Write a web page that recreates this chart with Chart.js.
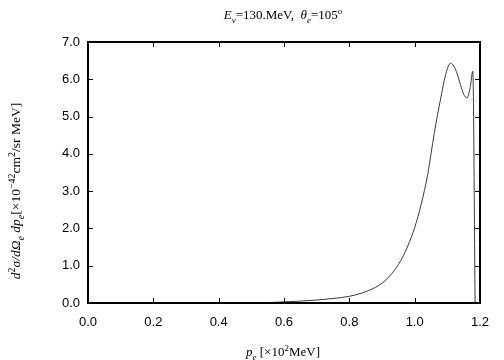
<!DOCTYPE html>
<html>
<head>
<meta charset="utf-8">
<script src="https://cdn.jsdelivr.net/npm/chart.js@4/dist/chart.umd.min.js"></script>
<style>
  html, body { margin: 0; padding: 0; background: #fff; }
  #wrap { width: 504px; height: 360px; }
</style>
</head>
<body>
<div id="wrap"><canvas id="spectrum"></canvas></div>
<script>
// electron momentum p_e [x10^2 MeV] and cross section [x10^-42 cm^2/sr MeV]
const momentum = [0.48, 0.55, 0.60, 0.65, 0.70, 0.75, 0.80, 0.82, 0.84, 0.86, 0.88, 0.90, 0.92, 0.94, 0.96, 0.98, 1.00, 1.02, 1.04, 1.05, 1.06, 1.07, 1.08, 1.09, 1.10, 1.11, 1.12, 1.13, 1.14, 1.15, 1.16, 1.17, 1.178, 1.185];
const crossSection = [0.00, 0.01, 0.03, 0.05, 0.08, 0.12, 0.18, 0.22, 0.27, 0.34, 0.42, 0.53, 0.69, 0.90, 1.18, 1.55, 2.02, 2.65, 3.45, 4.00, 4.55, 5.05, 5.50, 5.95, 6.28, 6.43, 6.35, 6.15, 5.86, 5.60, 5.50, 5.78, 6.22, 0.00];

const xTicks = [0.0, 0.2, 0.4, 0.6, 0.8, 1.0, 1.2];
const yTicks = [0.0, 1.0, 2.0, 3.0, 4.0, 5.0, 6.0, 7.0];

// rich text pieces: [text, italic, shift]
const titleText = [['E', true, 0], ['ν', true, 'sub'], ['=130.MeV,  ', false, 0], ['θ', true, 0], ['e', true, 'sub'], ['=105', false, 0], ['o', false, 'sup']];
const xTitleText = [['p', true, 0], ['e', true, 'sub'], [' [×10', false, 0], ['2', false, 'sup'], ['MeV]', false, 0]];
const yTitleText = [['d', true, 0], ['2', false, 'sup'], ['σ/dΩ', true, 0], ['e', true, 'sub'], [' dp', true, 0], ['e', true, 'sub'], ['[×10', false, 0], ['−42', false, 'sup'], ['cm', false, 0], ['2', false, 'sup'], ['/sr MeV]', false, 0]];

const SERIF = '"Liberation Serif", "DejaVu Serif", serif';

function drawRich(ctx, parts, cx, cy, size) {
  const small = Math.round(size * 0.72);
  const font = (italic, sz) => `${italic ? 'italic ' : ''}${sz}px ${SERIF}`;
  let total = 0;
  parts.forEach(([t, it, sh]) => {
    ctx.font = font(it, sh ? small : size);
    total += ctx.measureText(t).width;
  });
  let x = cx - total / 2;
  ctx.textBaseline = 'alphabetic';
  ctx.textAlign = 'left';
  parts.forEach(([t, it, sh]) => {
    ctx.font = font(it, sh ? small : size);
    let dy = 0;
    if (sh === 'sub') dy = size * 0.3;
    if (sh === 'sup') dy = -size * 0.4;
    ctx.fillText(t, x, cy + dy);
    x += ctx.measureText(t).width;
  });
}

const frameAndLabels = {
  id: 'frameAndLabels',
  afterDraw(chart) {
    const { ctx, chartArea: { left, top, right, bottom }, scales: { x, y } } = chart;
    ctx.save();
    ctx.strokeStyle = '#000';
    ctx.lineWidth = 1;
    ctx.beginPath();
    xTicks.forEach((v) => {
      const px = Math.round(x.getPixelForValue(v)) + 0.5;
      ctx.moveTo(px, bottom); ctx.lineTo(px, bottom - 5);
      ctx.moveTo(px, top); ctx.lineTo(px, top + 5);
    });
    yTicks.forEach((v) => {
      const py = Math.round(y.getPixelForValue(v)) + 0.5;
      ctx.moveTo(left, py); ctx.lineTo(left + 5, py);
      ctx.moveTo(right, py); ctx.lineTo(right - 5, py);
    });
    ctx.stroke();
    ctx.lineWidth = 2;
    ctx.strokeRect(left, top, right - left, bottom - top);

    ctx.fillStyle = '#000';
    drawRich(ctx, titleText, 283, 19, 13);
    drawRich(ctx, xTitleText, 283, 356, 13);
    ctx.translate(20, 191);
    ctx.rotate(-Math.PI / 2);
    drawRich(ctx, yTitleText, 0, 0, 13.5);
    ctx.restore();
  },
};

new Chart(document.getElementById('spectrum'), {
  type: 'line',
  data: {
    datasets: [{
      data: momentum.map((p, i) => ({ x: p, y: crossSection[i] })),
      borderColor: '#3a3a3a',
      borderWidth: 1,
      pointRadius: 0,
      fill: false,
      cubicInterpolationMode: 'monotone',
    }],
  },
  options: {
    responsive: true,
    maintainAspectRatio: false,
    animation: false,
    layout: { padding: { top: 42, right: 24, left: 0, bottom: 0 } },
    plugins: { legend: { display: false }, tooltip: { enabled: false } },
    scales: {
      x: {
        type: 'linear',
        min: 0,
        max: 1.2,
        afterFit(scale) { scale.height = 57; },
        afterBuildTicks(scale) { scale.ticks = xTicks.map((v) => ({ value: v })); },
        grid: { display: false, drawTicks: false },
        border: { display: false },
        ticks: {
          color: '#000',
          padding: 12,
          maxRotation: 0,
          font: { family: '"Liberation Sans", Arial, sans-serif', size: 13 },
          callback: (v) => v.toFixed(1),
        },
      },
      y: {
        min: 0,
        max: 7,
        afterFit(scale) { scale.width = 88; },
        afterBuildTicks(scale) { scale.ticks = yTicks.map((v) => ({ value: v })); },
        grid: { display: false, drawTicks: false },
        border: { display: false },
        ticks: {
          color: '#000',
          padding: 8,
          font: { family: '"Liberation Sans", Arial, sans-serif', size: 13 },
          callback: (v) => v.toFixed(1),
        },
      },
    },
  },
  plugins: [frameAndLabels],
});
</script>
</body>
</html>
